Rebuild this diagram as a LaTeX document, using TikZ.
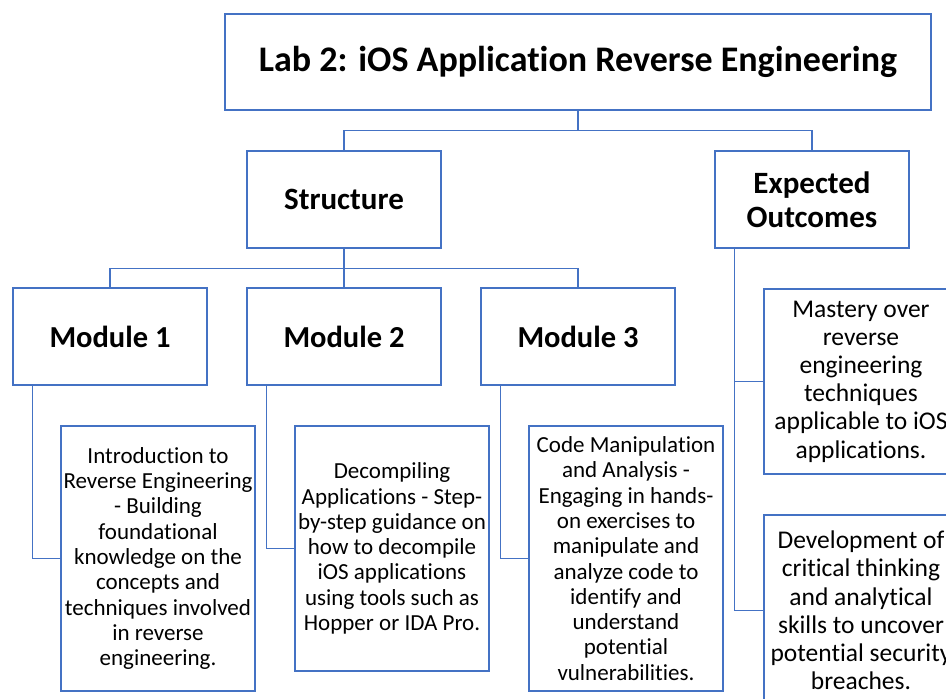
\documentclass[tikz,border=0pt]{standalone}
\usepackage{fontspec}
\setmainfont{Carlito}[Ligatures=NoCommon]
\definecolor{boxblue}{RGB}{68,114,196}
\tikzset{
  box/.style={draw=boxblue, line width=1.4pt, fill=white, inner sep=0pt,
    align=center, minimum width=194pt, text=black},
  link/.style={draw=boxblue, line width=1.4pt},
  headtext/.style={font=\fontsize{36}{40}\selectfont\bfseries},
  midtext/.style={font=\fontsize{31}{34}\selectfont\bfseries},
  modtext/.style={font=\fontsize{30.5}{34}\selectfont\bfseries},
  bodytext/.style={font=\fontsize{23}{25.3}\selectfont},
  outtext/.style={font=\fontsize{25.5}{28.2}\selectfont},
}
\begin{document}
\begin{tikzpicture}[x=1pt,y=-1pt]
\useasboundingbox (0,0) rectangle (946,699);
\clip (0,0) rectangle (946,699);

% top level
\node[box, headtext, minimum width=706pt, minimum height=96pt] (title) at (578,62)
  {Lab 2: iOS Application Reverse Engineering};

% second level
\node[box, midtext, minimum height=97pt] (struct) at (344,199.5) {Structure};
\node[box, midtext, minimum height=97pt] (expect) at (812,199.5) {Expected\\Outcomes};

% modules
\node[box, modtext, minimum height=97pt] (m1) at (110,336.5) {Module 1};
\node[box, modtext, minimum height=97pt] (m2) at (344,336.5) {Module 2};
\node[box, modtext, minimum height=97pt] (m3) at (578,336.5) {Module 3};

% module details
\node[box, bodytext, minimum height=265pt] (c1) at (158,558.5)
  {Introduction to\\Reverse Engineering\\- Building\\foundational\\knowledge on the\\concepts and\\techniques involved\\in reverse\\engineering.};
\node[box, bodytext, minimum height=245pt] (c2) at (392,548.5)
  {Decompiling\\Applications - Step-\\by-step guidance on\\how to decompile\\iOS applications\\using tools such as\\Hopper or IDA Pro.};
\node[box, bodytext, minimum height=265pt] (c3) at (626,558.5)
  {Code Manipulation\\and Analysis -\\Engaging in hands-\\on exercises to\\manipulate and\\analyze code to\\identify and\\understand\\potential\\vulnerabilities.};

% outcomes
\node[box, outtext, minimum height=185pt] (o1) at (861,381.5)
  {Mastery over\\reverse\\engineering\\techniques\\applicable to iOS\\applications.};
\node[box, outtext, minimum height=191pt] (o2) at (861,610.5)
  {Development of\\critical thinking\\and analytical\\skills to uncover\\potential security\\breaches.};

% connectors
\draw[link] (title.south) -- ++(0,20) -| (struct.north);
\draw[link] (title.south) -- ++(0,20) -| (expect.north);
\draw[link] (struct.south) -- ++(0,20) -| (m1.north);
\draw[link] (struct.south) -- (m2.north);
\draw[link] (struct.south) -- ++(0,20) -| (m3.north);
\draw[link] ([xshift=20pt]m1.south west) |- (c1.west);
\draw[link] ([xshift=20pt]m2.south west) |- (c2.west);
\draw[link] ([xshift=20pt]m3.south west) |- (c3.west);
\draw[link] ([xshift=20pt]expect.south west) |- (o1.west);
\draw[link] ([xshift=20pt]expect.south west) |- (o2.west);
\end{tikzpicture}
\end{document}
